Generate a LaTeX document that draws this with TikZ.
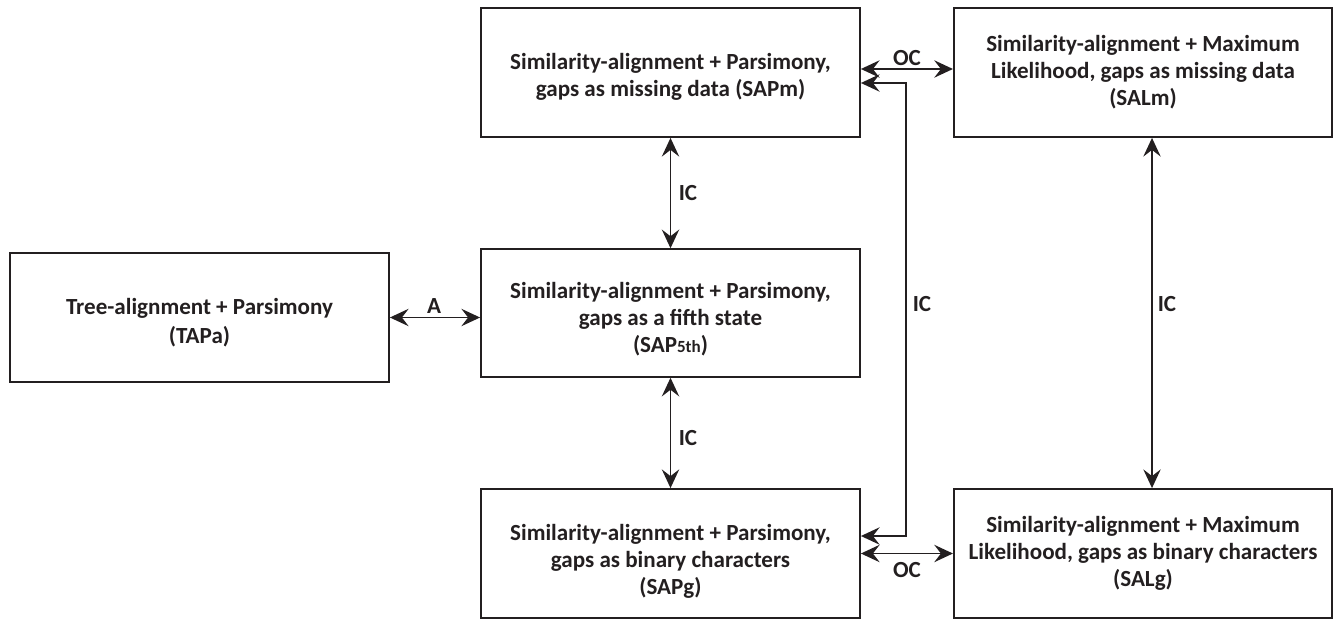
\documentclass[tikz,border=0pt]{standalone}
\usepackage{fontspec}
\setmainfont{Carlito}
\usetikzlibrary{arrows.meta}
\definecolor{ink}{HTML}{231F20}
\begin{document}
\begin{tikzpicture}[x=0.75pt,y=-0.75pt,
  box/.style={draw=ink,line width=1.6pt,rectangle,minimum width=284pt,minimum height=96.5pt,inner sep=0pt},
  txt/.style={align=center,text=ink,font=\bfseries\fontsize{17.3}{20.3}\selectfont,inner sep=0pt},
  conn/.style={draw=ink,line width=1.4pt,{Stealth[length=14pt,width=13pt,inset=5pt]}-{Stealth[length=14pt,width=13pt,inset=5pt]}},
  lab/.style={text=ink,font=\bfseries\fontsize{17.3}{20.3}\selectfont,inner sep=0pt}]
\useasboundingbox (0,0) rectangle (1334,620);
\node[box] (TAPa) at (199.5,317.5) {};
\node[box] (SAPm) at (670.5,72.5) {};
\node[box,minimum height=95.5pt] (SAP5) at (670.5,313) {};
\node[box] (SAPg) at (670.5,553.5) {};
\node[box,minimum width=283.5pt] (SALm) at (1143,72.5) {};
\node[box,minimum width=283.5pt] (SALg) at (1143,553.5) {};
\node[txt] (TAPaT) at (199.5,323) {Tree-alignment + Parsimony\\[1.5pt](TAPa)};
\node[txt] (SAPmT) at (670.5,76.5) {Similarity-alignment + Parsimony,\\gaps as missing data (SAPm)};
\node[txt] (SAP5T) at (670.5,319.5) {Similarity-alignment + Parsimony,\\gaps as a fifth state\\(SAP{\fontsize{12.8}{12.8}\selectfont 5th})};
\node[txt] (SAPgT) at (670.5,561) {Similarity-alignment + Parsimony,\\gaps as binary characters\\(SAPg)};
\node[txt] (SALmT) at (1143,72.5) {Similarity-alignment + Maximum\\Likelihood, gaps as missing data\\(SALm)};
\node[txt] (SALgT) at (1143,553) {Similarity-alignment + Maximum\\Likelihood, gaps as binary characters\\(SALg)};
\coordinate (ocT) at (0,69);
\coordinate (loopT) at (906,83);
\coordinate (loopB) at (906,536);
\coordinate (xr) at (1152,0);
\draw[conn] (TAPa.east) -- (TAPa.east -| SAP5.west);
\draw[conn] (SAPm.south) -- (SAP5.north);
\draw[conn] (SAP5.south) -- (SAPg.north);
\draw[conn] (SAPm.east |- ocT) -- (SALm.west |- ocT);
\draw[conn] (SAPm.east |- loopT) -- (loopT) -- (loopB) -- (SAPg.east |- loopB);
\draw[conn] (SAPg.east) -- (SALg.west);
\draw[conn] (SALm.south -| xr) -- (SALg.north -| xr);
\node[lab] (lA) at (434,306) {A};
\node[lab] (lIC1) at (688,193) {IC};
\node[lab] (lIC2) at (688,438) {IC};
\node[lab] (lIC3) at (922,304) {IC};
\node[lab] (lIC4) at (1167,304) {IC};
\node[lab] (lOC1) at (907,58) {OC};
\node[lab] (lOC2) at (907,570) {OC};
\end{tikzpicture}
\end{document}
